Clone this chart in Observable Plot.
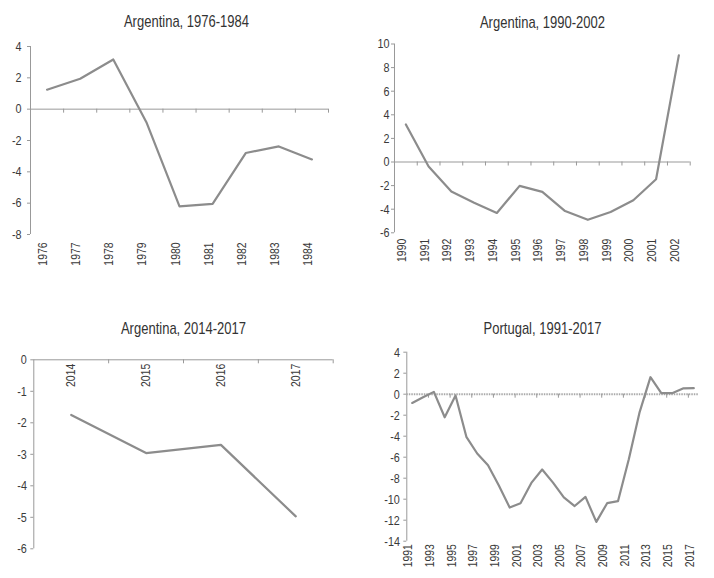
<!DOCTYPE html>
<html><head><meta charset="utf-8">
<script src="https://cdn.jsdelivr.net/npm/d3@7"></script>
<script src="https://cdn.jsdelivr.net/npm/@observablehq/plot@0.6"></script>
<style>
body{margin:0;background:#fff;}
#root{position:relative;width:714px;height:578px;font-family:"Liberation Sans",Arial,sans-serif;}
.title{position:absolute;width:357px;text-align:center;font-size:17px;line-height:20px;color:#333;transform:scaleX(0.765);transform-origin:center;}
.panel{position:absolute;}
</style></head><body><div id="root"></div>
<script>
// Panel 1: Argentina, 1976-1984
const years1 = [1976,1977,1978,1979,1980,1981,1982,1983,1984];
const values1 = [1.24,1.94,3.17,-0.83,-6.2,-6.04,-2.8,-2.38,-3.21];
const yTicks1 = [-8,-6,-4,-2,0,2,4];
// Panel 2: Argentina, 1990-2002
const years2 = [1990,1991,1992,1993,1994,1995,1996,1997,1998,1999,2000,2001,2002];
const values2 = [3.18,-0.38,-2.5,-3.45,-4.32,-2.02,-2.53,-4.16,-4.9,-4.24,-3.24,-1.46,9.04];
const yTicks2 = [-6,-4,-2,0,2,4,6,8,10];
// Panel 3: Argentina, 2014-2017
const years3 = [2014,2015,2016,2017];
const values3 = [-1.75,-2.96,-2.7,-4.97];
const yTicks3 = [-6,-5,-4,-3,-2,-1,0];
// Panel 4: Portugal, 1991-2017
const years4 = [1991,1992,1993,1994,1995,1996,1997,1998,1999,2000,2001,2002,2003,2004,2005,2006,2007,2008,2009,2010,2011,2012,2013,2014,2015,2016,2017];
const values4 = [-0.83,-0.3,0.22,-2.2,-0.12,-4.06,-5.65,-6.76,-8.7,-10.8,-10.38,-8.45,-7.17,-8.42,-9.82,-10.65,-9.78,-12.16,-10.38,-10.19,-6.2,-1.7,1.62,0.1,0.1,0.55,0.57];
const yTicks4 = [-14,-12,-10,-8,-6,-4,-2,0,2,4];
const labels4 = [1991,1993,1995,1997,1999,2001,2003,2005,2007,2009,2011,2013,2015,2017];

const titles = ["Argentina, 1976-1984","Argentina, 1990-2002","Argentina, 2014-2017","Portugal, 1991-2017"];

const FONT = "'Liberation Sans',Arial,sans-serif";
const AX = "#999";
const LINE = "#8c8c8c";
const TXT = "#3a3a3a";

const root = document.getElementById("root");

function addTitle(text, left, top){
  const d = document.createElement("div");
  d.className = "title";
  d.style.left = left + "px";
  d.style.top = top + "px";
  d.textContent = text;
  root.appendChild(d);
}

// narrow the glyphs along the text direction (the original uses a condensed face),
// keeping the anchored (right) end of each label fixed
function squeeze(t, s){
  const bb = t.getBBox();
  const r = bb.x + bb.width;
  const tr = t.getAttribute("transform") || "";
  t.setAttribute("transform", `${tr} translate(${r},0) scale(${s},1) translate(${-r},0)`.trim());
}

function panel(o){
  const data = o.years.map((y,i)=>({year:y, value:o.values[i]}));
  const xmin = o.years[0]-0.5, xmax = o.years[o.years.length-1]+0.5;
  const ymin = o.yTicks[0], ymax = o.yTicks[o.yTicks.length-1];
  const labelOpts = {x:d=>d, text:d=>String(d), rotate:-90, textAnchor:"end", dy:o.labelDy, fontSize:13, fill:TXT, ariaLabel:"year-label"};
  const labelMark = o.labelsTop
    ? Plot.text(o.labels, {...labelOpts, y:0})
    : Plot.text(o.labels, {...labelOpts, frameAnchor:"bottom"});
  const chart = Plot.plot({
    width:o.width, height:o.height,
    marginTop:o.mt, marginBottom:o.mb, marginLeft:o.ml, marginRight:o.mr,
    style:{fontFamily:FONT, fontSize:"12px", color:TXT, background:"transparent", overflow:"visible"},
    x:{domain:[xmin,xmax], axis:null},
    y:{domain:[ymin,ymax], axis:null},
    marks:[
      Plot.ruleX([xmin], {y1:ymin, y2:ymax, stroke:AX, strokeWidth:1}),
      Plot.axisY(o.yTicks, {tickSize:3, tickPadding:o.pad, stroke:AX, fill:TXT, fontSize:13.5, label:null, tickFormat:d=>String(d)}),
      Plot.ruleY([0], {x1:xmin, x2:xmax, stroke:o.zeroDashed?"#aaa":AX, strokeWidth:o.zeroDashed?2:1, strokeDasharray:o.zeroDashed?"1.5,1":null}),
      Plot.ruleX(o.ticks, {x:d=>d, y1:0, y2:0, insetTop:0, insetBottom:-4, stroke:AX, strokeWidth:1}),
      Plot.line(data, {x:"year", y:"value", stroke:LINE, strokeWidth:2.2}),
      labelMark
    ]
  });
  chart.classList.add("panel");
  chart.style.left = o.left + "px";
  chart.style.top = o.top + "px";
  root.appendChild(chart);
  chart.querySelectorAll("text").forEach(t => {
    const g = t.closest("g[aria-label]");
    const isYear = g && g.getAttribute("aria-label") === "year-label";
    squeeze(t, isYear ? 0.86 : 0.8);
  });
}

addTitle(titles[0], 8, 12);
addTitle(titles[1], 364, 13);
addTitle(titles[2], 5, 319);
addTitle(titles[3], 364, 319);

panel({years:years1, values:values1, yTicks:yTicks1, labels:years1, ticks:years1.map(y=>y+0.5),
  left:0, top:30, width:357, height:240, mt:16, mb:36, ml:30, mr:29, pad:6, labelDy:8});
panel({years:years2, values:values2, yTicks:yTicks2, labels:years2, ticks:years2.map(y=>y+0.5),
  left:357, top:30, width:357, height:240, mt:13.5, mb:37.7, ml:37, mr:24.3, pad:2, labelDy:6});
panel({years:years3, values:values3, yTicks:yTicks3, labels:years3, ticks:years3.map(y=>y+0.5), labelsTop:true,
  left:0, top:340, width:357, height:238, mt:19.3, mb:29.7, ml:33.3, mr:24.3, pad:4, labelDy:4});
panel({years:years4, values:values4, yTicks:yTicks4, labels:labels4, ticks:labels4.slice(1).map(y=>y-0.5), zeroDashed:true,
  left:357, top:340, width:357, height:238, mt:11.7, mb:37.3, ml:49.3, mr:15.3, pad:4, labelDy:3});
</script></body></html>
